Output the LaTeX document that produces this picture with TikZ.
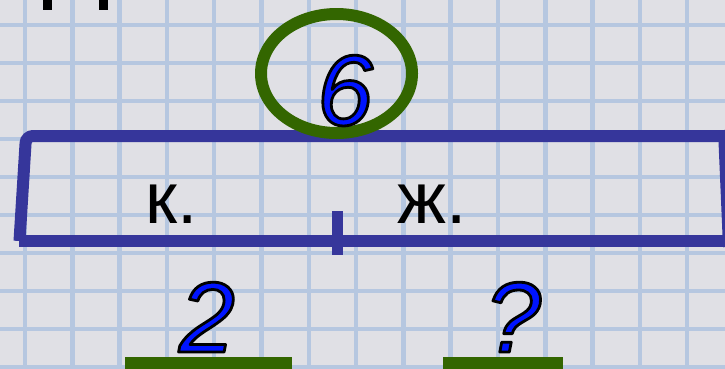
\documentclass[tikz,border=0pt]{standalone}
\usepackage{fontspec}
\setmainfont{Liberation Sans}
\definecolor{paper}{RGB}{224,224,229}
\definecolor{gridc}{RGB}{182,199,224}
\definecolor{brack}{RGB}{54,54,155}
\definecolor{leaf}{RGB}{51,102,0}
\definecolor{digit}{RGB}{0,20,255}
\tikzset{
  gridline/.style={gridc, line width=4.5pt},
  brackline/.style={brack, line width=12pt},
  bignum/.style={inner sep=0pt, anchor=base, text depth=0pt, font=\fontsize{100}{100}\selectfont\itshape},
  label/.style={inner sep=0pt, anchor=base west, text depth=0pt, font=\fontsize{73}{73}\selectfont, text=black},
  bar/.style={fill=leaf, draw=none}
}
\newcommand{\outnum}[1]{\textcolor{digit}{\special{pdf:literal 0 0 0 RG 2.8 w 1 j 2 Tr}#1\special{pdf:literal 0 Tr}}}
\begin{document}
\begin{tikzpicture}[x=1pt,y=-1pt]
\useasboundingbox (0,0) rectangle (725,368);
\clip (0,0) rectangle (725,368);
\fill[paper] (0,0) rectangle (725,368);
% grid
\foreach \k in {0,...,14} {\draw[gridline] ({25+47.3*\k},0) -- ({25+47.3*\k},368);}
\foreach \k in {0,...,9} {\draw[gridline] (0,{25+38*\k}) -- (725,{25+38*\k});}
% partial letter at top left
\fill[black] (43,0) rectangle (52,10);
\fill[black] (99,0) rectangle (108,10);
% bracket
\draw[brackline, rounded corners=7pt] (19.5,241) -- (26,136) -- (730,136);
\draw[brackline] (19,241) -- (730,241);
\draw[brackline] (724,130) -- (729,247);
\draw[brack, line width=11pt] (337.5,211) -- (337.5,255);
% ellipse
\draw[leaf, line width=12pt] (336.5,73.5) ellipse [x radius=75.5pt, y radius=59.5pt];
% labels
\node[label] (k) at (145,223) {к.};
\node[label] (zh) at (397,223) {ж.};
% numbers
\node[bignum] (six) at (345,125) {\outnum{6}};
\node[bignum] (two) at (207,352) {\outnum{2}};
\node[bignum] (q) at (513,352) {\outnum{?}};
% bars
\fill[bar] (125,357) rectangle (292,369);
\fill[bar] (443,357) rectangle (563,369);
\end{tikzpicture}
\end{document}
